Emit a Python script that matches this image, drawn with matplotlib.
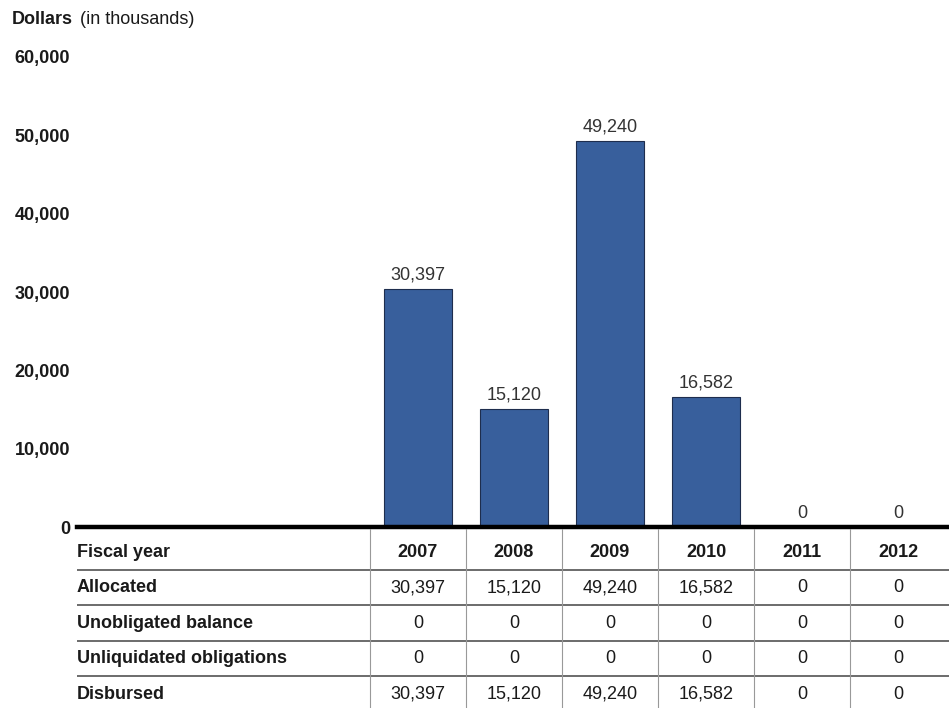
import numpy as np
import matplotlib as mpl
mpl.use('Agg')
import matplotlib.pyplot as plt

plt.rcParams['font.family'] = ['Liberation Sans', 'DejaVu Sans']

# data
years = ['2007', '2008', '2009', '2010', '2011', '2012']
allocated = [30397, 15120, 49240, 16582, 0, 0]
unobligated = [0, 0, 0, 0, 0, 0]
unliquidated = [0, 0, 0, 0, 0, 0]
disbursed = [30397, 15120, 49240, 16582, 0, 0]
row_names = ['Allocated', 'Unobligated balance', 'Unliquidated obligations', 'Disbursed']
yticks = [0, 10000, 20000, 30000, 40000, 50000, 60000]

W, H = 949, 708
FS = 13
fig = plt.figure(figsize=(W / 100, H / 100), dpi=100)

left = 77 / W
ax = fig.add_axes([left, 1 - 527 / H, 1 - left, (527 - 57) / H])
x = np.arange(len(years))
xlim = (-3.55, 5.53)

ax.bar(x, allocated, width=0.71, color='#385f9c', edgecolor='#1e2d4d', linewidth=0.8, zorder=2)
for xi, v in zip(x, allocated):
    ax.text(xi, v + 700, f'{v:,}', ha='center', va='bottom', fontsize=FS, color='#333333')

ax.set_xlim(*xlim)
ax.set_ylim(0, 60000)
ax.set_yticks(yticks)
ax.set_yticklabels([f'{t:,}' for t in yticks], fontsize=FS, fontweight='bold', color='#1a1a1a')
ax.tick_params(axis='y', length=0, pad=5)
ax.set_xticks([])
for s in ['top', 'right', 'left']:
    ax.spines[s].set_visible(False)
ax.spines['bottom'].set_linewidth(3.2)
ax.spines['bottom'].set_color('black')
ax.spines['bottom'].set_zorder(3)

fig.text(12 / W, 1 - 20 / H, 'Dollars', fontsize=FS, fontweight='bold', va='center', color='#1a1a1a')
fig.text(80 / W, 1 - 20 / H, '(in thousands)', fontsize=FS, va='center', color='#1a1a1a')

# table below the axis
tax = fig.add_axes([left, 0, 1 - left, (H - 529) / H])
tax.set_xlim(*xlim)
tax.set_ylim(4.39, -0.65)
tax.axis('off')

table_rows = [allocated, unobligated, unliquidated, disbursed]

tax.text(xlim[0], 0, 'Fiscal year', fontsize=FS, fontweight='bold', va='center', ha='left', color='#1a1a1a')
for xi, yr in zip(x, years):
    tax.text(xi, 0, yr, fontsize=FS, fontweight='bold', va='center', ha='center', color='#1a1a1a')

for r, (name, vals) in enumerate(zip(row_names, table_rows), start=1):
    tax.text(xlim[0], r, name, fontsize=FS, fontweight='bold', va='center', ha='left', color='#1a1a1a')
    for xi, v in zip(x, vals):
        tax.text(xi, r, f'{v:,}', fontsize=FS, va='center', ha='center', color='#1a1a1a')

for r in range(len(row_names)):
    tax.axhline(r + 0.5, color='#444444', linewidth=1.1)
for xi in x:
    tax.axvline(xi - 0.5, color='#999999', linewidth=0.8)

fig.savefig('out.png', dpi=100)
